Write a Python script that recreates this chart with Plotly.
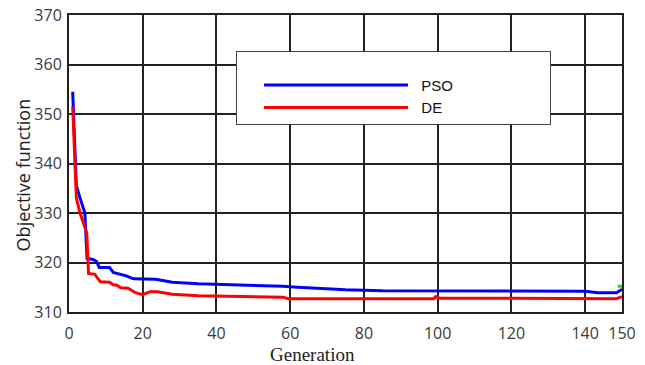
import plotly.graph_objects as go

# ---- data ----
gen_pso = [1, 2, 3, 4.3, 4.9, 6.5, 7.5, 8.2, 11, 12, 15.5, 17.5, 23.5, 28, 35, 45, 58, 62, 68, 75, 85, 100, 140, 143.5, 148.5, 150]
pso = [354.5, 335.5, 333.0, 330.0, 320.8, 320.6, 320.2, 319.0, 319.0, 318.0, 317.3, 316.7, 316.6, 316.0, 315.7, 315.5, 315.2, 315.0, 314.7, 314.5, 314.3, 314.3, 314.2, 313.9, 313.9, 314.6]

gen_de = [1, 2, 3, 4, 4.8, 5.3, 7, 8.5, 11, 12, 13, 14, 16, 18, 20, 22, 24, 28, 35, 58, 59.5, 99, 99.5, 100.5, 148.5, 150]
de = [351.5, 333.0, 330.0, 327.5, 326.0, 317.8, 317.6, 316.1, 316.0, 315.5, 315.4, 314.9, 314.8, 313.9, 313.5, 314.1, 314.1, 313.6, 313.3, 313.0, 312.7, 312.7, 313.1, 312.8, 312.7, 313.1]

gen_extra = [148.8, 150]
extra = [315.2, 315.2]

x_ticks = [0, 20, 40, 60, 80, 100, 120, 140, 150]
y_ticks = [310, 320, 330, 340, 350, 360, 370]

pad = "\u00a0" * 22

fig = go.Figure()
fig.add_trace(go.Scatter(x=gen_pso, y=pso, mode="lines", name="\u00a0\u00a0PSO" + pad,
                         line=dict(color="#0000ff", width=3)))
fig.add_trace(go.Scatter(x=gen_de, y=de, mode="lines", name="\u00a0\u00a0DE",
                         line=dict(color="#ff0000", width=3)))
fig.add_trace(go.Scatter(x=gen_extra, y=extra, mode="lines", showlegend=False,
                         line=dict(color="#00ee00", width=3)))

tick_font = dict(family="Open Sans, Liberation Sans, Arial", size=16, color="#3a3a3a")
axis_common = dict(showgrid=True, gridcolor="#222222", gridwidth=2,
                   showline=True, linecolor="#222222", linewidth=2, mirror=True,
                   ticks="", zeroline=False, tickfont=tick_font)

fig.update_xaxes(range=[0, 150], tickvals=x_ticks, ticktext=[str(v) for v in x_ticks],
                 ticklabelstandoff=6, **axis_common)
fig.update_yaxes(range=[310, 370], tickvals=y_ticks, ticktext=[str(v) for v in y_ticks],
                 ticklabelstandoff=2, **axis_common)

fig.update_layout(
    width=645, height=365,
    margin=dict(l=69, r=23, t=15, b=53, autoexpand=False),
    paper_bgcolor="white", plot_bgcolor="white",
    showlegend=True,
    legend=dict(x=0.302, y=0.879, xanchor="left", yanchor="top",
                bgcolor="white", bordercolor="#444444", borderwidth=1,
                itemwidth=144, indentation=22, tracegroupgap=0,
                title=dict(text="\u00a0", font=dict(size=13)),
                font=dict(family="Liberation Sans, Arial", size=15, color="#111111")),
    annotations=[
        dict(text="Generation", xref="paper", yref="paper", x=0.44, y=0,
             xanchor="center", yanchor="middle", yshift=-42, showarrow=False,
             font=dict(family="Liberation Serif, Times New Roman", size=19, color="#222222")),
        dict(text="Objective function", xref="paper", yref="paper", x=0, y=0.46,
             xanchor="center", yanchor="middle", xshift=-46, textangle=-90, showarrow=False,
             font=dict(family="Open Sans, Liberation Sans, Arial", size=18, color="#222222")),
    ],
)

fig.write_html("out.html", post_script="document.body.style.margin='0';",
               config={"displayModeBar": False})
